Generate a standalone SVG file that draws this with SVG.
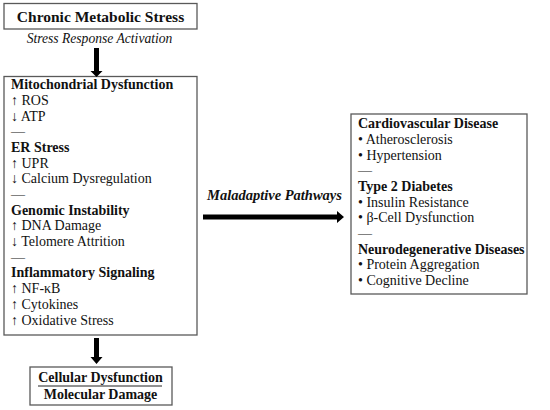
<svg xmlns="http://www.w3.org/2000/svg" width="550" height="410" viewBox="0 0 550 410">
<style>
.box{fill:#fff;stroke:#595959;stroke-width:1.3}
text{font-family:"Liberation Serif","Times New Roman",serif;fill:#111}
.t{font-size:14px}
.b{font-weight:bold}
.h{font-size:15.5px;font-weight:bold}
.arr{fill:#000}
</style>
<rect width="550" height="410" fill="#fff"/>
<g id="chronic">
<rect class="box" x="4" y="3.5" width="193" height="25.5"/>
<text class="h" x="100.5" y="22" text-anchor="middle">Chronic Metabolic Stress</text>
</g>
<g id="mechanisms">
<rect class="box" x="4" y="76.5" width="193" height="258.5"/>
<text class="t" x="11">
<tspan class="b" x="11" y="89">Mitochondrial Dysfunction</tspan>
<tspan x="11" y="105">↑ ROS</tspan>
<tspan x="11" y="121">↓ ATP</tspan>
<tspan x="11" y="136">—</tspan>
<tspan class="b" x="11" y="152">ER Stress</tspan>
<tspan x="11" y="168">↑ UPR</tspan>
<tspan x="11" y="183">↓ Calcium Dysregulation</tspan>
<tspan x="11" y="199">—</tspan>
<tspan class="b" x="11" y="215">Genomic Instability</tspan>
<tspan x="11" y="230">↑ DNA Damage</tspan>
<tspan x="11" y="246">↓ Telomere Attrition</tspan>
<tspan x="11" y="262">—</tspan>
<tspan class="b" x="11" y="277">Inflammatory Signaling</tspan>
<tspan x="11" y="293">↑ NF-κB</tspan>
<tspan x="11" y="309">↑ Cytokines</tspan>
<tspan x="11" y="325">↑ Oxidative Stress</tspan>
</text>
</g>
<g id="diseases">
<rect class="box" x="351" y="114" width="176" height="180"/>
<text class="t">
<tspan class="b" x="358" y="128">Cardiovascular Disease</tspan>
<tspan x="358" y="144">• Atherosclerosis</tspan>
<tspan x="358" y="160">• Hypertension</tspan>
<tspan x="358" y="175">—</tspan>
<tspan class="b" x="358" y="191">Type 2 Diabetes</tspan>
<tspan x="358" y="207">• Insulin Resistance</tspan>
<tspan x="358" y="222">• β-Cell Dysfunction</tspan>
<tspan x="358" y="238">—</tspan>
<tspan class="b" x="358" y="254">Neurodegenerative Diseases</tspan>
<tspan x="358" y="269">• Protein Aggregation</tspan>
<tspan x="358" y="285">• Cognitive Decline</tspan>
</text>
</g>
<g id="damage">
<rect class="box" x="30" y="367" width="142" height="38"/>
<text class="t b" x="100.5" y="382" text-anchor="middle">Cellular Dysfunction</text>
<line x1="38" y1="386" x2="162" y2="386" stroke="#222" stroke-width="1"/>
<text class="t b" x="100.5" y="399" text-anchor="middle">Molecular Damage</text>
</g>
<g id="connectors">
<text class="b" x="207" y="200" font-size="14.5" font-style="italic">Maladaptive Pathways</text>
<text x="99.5" y="43" font-size="13.6" font-style="italic" text-anchor="middle">Stress Response Activation</text>
<polygon class="arr" points="94,48 99,48 99,71 102.5,71 96.5,77 90.5,71 94,71"/>
<polygon class="arr" points="94,338 99,338 99,357 102.5,357 96.5,364 90.5,357 94,357"/>
<polygon class="arr" points="203,214.5 337,214.5 337,211 344,217 337,223 337,219.5 203,219.5"/>
</g>
</svg>
